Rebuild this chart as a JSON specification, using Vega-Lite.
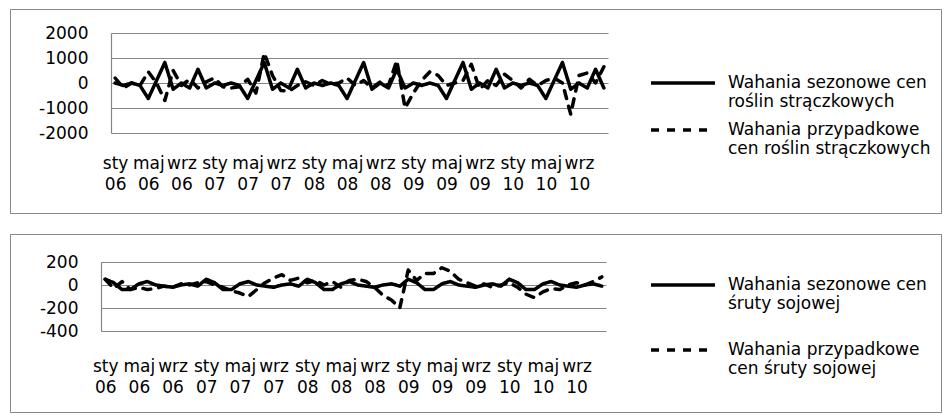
{
  "$schema": "https://vega.github.io/schema/vega-lite/v6.json",
  "background": "white",
  "padding": {"left": 9, "top": 8, "right": 0, "bottom": 0},
  "bounds": "flush",
  "spacing": 21,
  "config": {
    "view": {"stroke": "#868686", "strokeWidth": 1},
    "axis": {"labelFont": "DejaVu Sans", "labelFontSize": 17, "labelColor": "#000", "ticks": false, "tickSize": 0, "gridColor": "#868686", "gridWidth": 1.2, "gridOpacity": 1, "domainColor": "#868686", "domainWidth": 1.2},
    "legend": {"labelFont": "DejaVu Sans", "labelFontSize": 17, "labelColor": "#000"}
  },
  "datasets": {
    "legumes": [
      {"i":0,"month":"sty 06","sezonowe":0,"przypadkowe":200},
      {"i":1,"month":"lut 06","sezonowe":-100,"przypadkowe":-200},
      {"i":2,"month":"mar 06","sezonowe":0,"przypadkowe":0},
      {"i":3,"month":"kwi 06","sezonowe":-100,"przypadkowe":-100},
      {"i":4,"month":"maj 06","sezonowe":-620,"przypadkowe":450},
      {"i":5,"month":"cze 06","sezonowe":100,"przypadkowe":0},
      {"i":6,"month":"lip 06","sezonowe":820,"przypadkowe":-700},
      {"i":7,"month":"sie 06","sezonowe":-250,"przypadkowe":500},
      {"i":8,"month":"wrz 06","sezonowe":0,"przypadkowe":-100},
      {"i":9,"month":"paź 06","sezonowe":-200,"przypadkowe":150},
      {"i":10,"month":"lis 06","sezonowe":550,"przypadkowe":-200},
      {"i":11,"month":"gru 06","sezonowe":-200,"przypadkowe":50},
      {"i":12,"month":"sty 07","sezonowe":0,"przypadkowe":200},
      {"i":13,"month":"lut 07","sezonowe":-100,"przypadkowe":-150},
      {"i":14,"month":"mar 07","sezonowe":0,"przypadkowe":-200},
      {"i":15,"month":"kwi 07","sezonowe":-100,"przypadkowe":-150},
      {"i":16,"month":"maj 07","sezonowe":-620,"przypadkowe":150},
      {"i":17,"month":"cze 07","sezonowe":100,"przypadkowe":-400},
      {"i":18,"month":"lip 07","sezonowe":820,"przypadkowe":1200},
      {"i":19,"month":"sie 07","sezonowe":-250,"przypadkowe":300},
      {"i":20,"month":"wrz 07","sezonowe":0,"przypadkowe":-300},
      {"i":21,"month":"paź 07","sezonowe":-200,"przypadkowe":-320},
      {"i":22,"month":"lis 07","sezonowe":550,"przypadkowe":-100},
      {"i":23,"month":"gru 07","sezonowe":-200,"przypadkowe":50},
      {"i":24,"month":"sty 08","sezonowe":0,"przypadkowe":-100},
      {"i":25,"month":"lut 08","sezonowe":-100,"przypadkowe":100},
      {"i":26,"month":"mar 08","sezonowe":0,"przypadkowe":-50},
      {"i":27,"month":"kwi 08","sezonowe":-100,"przypadkowe":0},
      {"i":28,"month":"maj 08","sezonowe":-620,"przypadkowe":200},
      {"i":29,"month":"cze 08","sezonowe":100,"przypadkowe":-100},
      {"i":30,"month":"lip 08","sezonowe":820,"przypadkowe":100},
      {"i":31,"month":"sie 08","sezonowe":-250,"przypadkowe":-200},
      {"i":32,"month":"wrz 08","sezonowe":0,"przypadkowe":50},
      {"i":33,"month":"paź 08","sezonowe":-200,"przypadkowe":-100},
      {"i":34,"month":"lis 08","sezonowe":550,"przypadkowe":900},
      {"i":35,"month":"gru 08","sezonowe":-200,"przypadkowe":-1000},
      {"i":36,"month":"sty 09","sezonowe":0,"przypadkowe":-400},
      {"i":37,"month":"lut 09","sezonowe":-100,"przypadkowe":100},
      {"i":38,"month":"mar 09","sezonowe":0,"przypadkowe":450},
      {"i":39,"month":"kwi 09","sezonowe":-100,"przypadkowe":300},
      {"i":40,"month":"maj 09","sezonowe":-620,"przypadkowe":-100},
      {"i":41,"month":"cze 09","sezonowe":100,"przypadkowe":0},
      {"i":42,"month":"lip 09","sezonowe":820,"przypadkowe":100},
      {"i":43,"month":"sie 09","sezonowe":-250,"przypadkowe":750},
      {"i":44,"month":"wrz 09","sezonowe":0,"przypadkowe":-250},
      {"i":45,"month":"paź 09","sezonowe":-200,"przypadkowe":100},
      {"i":46,"month":"lis 09","sezonowe":550,"przypadkowe":-100},
      {"i":47,"month":"gru 09","sezonowe":-200,"przypadkowe":350},
      {"i":48,"month":"sty 10","sezonowe":0,"przypadkowe":100},
      {"i":49,"month":"lut 10","sezonowe":-100,"przypadkowe":-200},
      {"i":50,"month":"mar 10","sezonowe":0,"przypadkowe":150},
      {"i":51,"month":"kwi 10","sezonowe":-100,"przypadkowe":-100},
      {"i":52,"month":"maj 10","sezonowe":-620,"przypadkowe":100},
      {"i":53,"month":"cze 10","sezonowe":100,"przypadkowe":200},
      {"i":54,"month":"lip 10","sezonowe":820,"przypadkowe":0},
      {"i":55,"month":"sie 10","sezonowe":-250,"przypadkowe":-1250},
      {"i":56,"month":"wrz 10","sezonowe":0,"przypadkowe":300},
      {"i":57,"month":"paź 10","sezonowe":-200,"przypadkowe":400},
      {"i":58,"month":"lis 10","sezonowe":550,"przypadkowe":0},
      {"i":59,"month":"gru 10","sezonowe":-200,"przypadkowe":650}
    ],
    "soy": [
      {"i":0,"month":"sty 06","sezonowe":50,"przypadkowe":50},
      {"i":1,"month":"lut 06","sezonowe":20,"przypadkowe":-30},
      {"i":2,"month":"mar 06","sezonowe":-40,"przypadkowe":30},
      {"i":3,"month":"kwi 06","sezonowe":-40,"przypadkowe":-40},
      {"i":4,"month":"maj 06","sezonowe":10,"przypadkowe":-20},
      {"i":5,"month":"cze 06","sezonowe":30,"przypadkowe":-40},
      {"i":6,"month":"lip 06","sezonowe":0,"przypadkowe":-30},
      {"i":7,"month":"sie 06","sezonowe":-10,"przypadkowe":-10},
      {"i":8,"month":"wrz 06","sezonowe":-20,"przypadkowe":-20},
      {"i":9,"month":"paź 06","sezonowe":0,"przypadkowe":10},
      {"i":10,"month":"lis 06","sezonowe":10,"przypadkowe":0},
      {"i":11,"month":"gru 06","sezonowe":-10,"przypadkowe":20},
      {"i":12,"month":"sty 07","sezonowe":50,"przypadkowe":30},
      {"i":13,"month":"lut 07","sezonowe":20,"przypadkowe":0},
      {"i":14,"month":"mar 07","sezonowe":-40,"przypadkowe":-20},
      {"i":15,"month":"kwi 07","sezonowe":-40,"przypadkowe":-50},
      {"i":16,"month":"maj 07","sezonowe":10,"przypadkowe":-70},
      {"i":17,"month":"cze 07","sezonowe":30,"przypadkowe":-100},
      {"i":18,"month":"lip 07","sezonowe":0,"przypadkowe":-40},
      {"i":19,"month":"sie 07","sezonowe":-10,"przypadkowe":20},
      {"i":20,"month":"wrz 07","sezonowe":-20,"przypadkowe":60},
      {"i":21,"month":"paź 07","sezonowe":0,"przypadkowe":90},
      {"i":22,"month":"lis 07","sezonowe":10,"przypadkowe":40},
      {"i":23,"month":"gru 07","sezonowe":-10,"przypadkowe":60},
      {"i":24,"month":"sty 08","sezonowe":50,"przypadkowe":20},
      {"i":25,"month":"lut 08","sezonowe":20,"przypadkowe":40},
      {"i":26,"month":"mar 08","sezonowe":-40,"przypadkowe":0},
      {"i":27,"month":"kwi 08","sezonowe":-40,"przypadkowe":30},
      {"i":28,"month":"maj 08","sezonowe":10,"przypadkowe":-20},
      {"i":29,"month":"cze 08","sezonowe":30,"przypadkowe":40},
      {"i":30,"month":"lip 08","sezonowe":0,"przypadkowe":50},
      {"i":31,"month":"sie 08","sezonowe":-10,"przypadkowe":30},
      {"i":32,"month":"wrz 08","sezonowe":-20,"przypadkowe":-20},
      {"i":33,"month":"paź 08","sezonowe":0,"przypadkowe":-90},
      {"i":34,"month":"lis 08","sezonowe":10,"przypadkowe":-130},
      {"i":35,"month":"gru 08","sezonowe":-10,"przypadkowe":-200},
      {"i":36,"month":"sty 09","sezonowe":50,"przypadkowe":130},
      {"i":37,"month":"lut 09","sezonowe":20,"przypadkowe":40},
      {"i":38,"month":"mar 09","sezonowe":-40,"przypadkowe":100},
      {"i":39,"month":"kwi 09","sezonowe":-40,"przypadkowe":100},
      {"i":40,"month":"maj 09","sezonowe":10,"przypadkowe":150},
      {"i":41,"month":"cze 09","sezonowe":30,"przypadkowe":120},
      {"i":42,"month":"lip 09","sezonowe":0,"przypadkowe":50},
      {"i":43,"month":"sie 09","sezonowe":-10,"przypadkowe":20},
      {"i":44,"month":"wrz 09","sezonowe":-20,"przypadkowe":-10},
      {"i":45,"month":"paź 09","sezonowe":0,"przypadkowe":10},
      {"i":46,"month":"lis 09","sezonowe":10,"przypadkowe":-20},
      {"i":47,"month":"gru 09","sezonowe":-10,"przypadkowe":0},
      {"i":48,"month":"sty 10","sezonowe":50,"przypadkowe":20},
      {"i":49,"month":"lut 10","sezonowe":20,"przypadkowe":-20},
      {"i":50,"month":"mar 10","sezonowe":-40,"przypadkowe":-80},
      {"i":51,"month":"kwi 10","sezonowe":-40,"przypadkowe":-110},
      {"i":52,"month":"maj 10","sezonowe":10,"przypadkowe":-60},
      {"i":53,"month":"cze 10","sezonowe":30,"przypadkowe":-30},
      {"i":54,"month":"lip 10","sezonowe":0,"przypadkowe":-40},
      {"i":55,"month":"sie 10","sezonowe":-10,"przypadkowe":0},
      {"i":56,"month":"wrz 10","sezonowe":-20,"przypadkowe":20},
      {"i":57,"month":"paź 10","sezonowe":0,"przypadkowe":0},
      {"i":58,"month":"lis 10","sezonowe":10,"przypadkowe":30},
      {"i":59,"month":"gru 10","sezonowe":-10,"przypadkowe":70}
    ]
  },
  "vconcat": [
    {
      "width": 931,
      "height": 204,
      "data": {"name": "legumes"},
      "transform": [{"fold": ["sezonowe", "przypadkowe"], "as": ["series", "value"]}],
      "mark": {"type": "line", "color": "black", "strokeWidth": 3.5, "strokeJoin": "round", "strokeCap": "round"},
      "encoding": {
        "x": {
          "field": "i", "type": "quantitative",
          "scale": {"domain": [-0.5, 59.5], "range": [101, 598], "nice": false, "zero": false},
          "axis": {"title": null, "orient": "bottom", "offset": -58, "values": [0,4,8,12,16,20,24,28,32,36,40,44,48,52,56],
                   "labelExpr": "[['sty','maj','wrz'][floor((datum.value % 12) / 4)], (datum.value < 48 ? '0' : '') + (6 + floor(datum.value / 12))]",
                   "domain": false, "grid": false, "labelPadding": 0, "labelOverlap": false, "labelFlush": false, "labelLineHeight": 21, "labelBaseline": "top"}
        },
        "y": {
          "field": "value", "type": "quantitative",
          "scale": {"domain": [-2000, 2000], "range": [124, 24], "nice": false, "zero": false},
          "axis": {"title": null, "values": [-2000, -1000, 0, 1000, 2000], "labelExpr": "'' + datum.value", "offset": -101, "grid": true, "domain": true, "labelPadding": 23}
        },
        "strokeDash": {
          "field": "series", "type": "nominal",
          "scale": {"domain": ["sezonowe", "przypadkowe"], "range": [[1, 0], [8, 8]]},
          "legend": {"title": null, "orient": "none", "legendX": 639, "legendY": 54, "padding": 0,
                     "symbolType": "stroke", "symbolSize": 4096, "symbolStrokeWidth": 3.5, "symbolStrokeColor": "black",
                     "clipHeight": 40, "rowPadding": 0, "labelOffset": 11, "labelLimit": 400, "labelBaseline": "middle",
                     "labelExpr": "datum.value == 'sezonowe' ? ['Wahania sezonowe cen', 'roślin strączkowych'] : ['Wahania przypadkowe', 'cen roślin strączkowych']"}
        }
      }
    },
    {
      "width": 931,
      "height": 178,
      "data": {"name": "soy"},
      "transform": [{"fold": ["sezonowe", "przypadkowe"], "as": ["series", "value"]}],
      "mark": {"type": "line", "color": "black", "strokeWidth": 3.5, "strokeJoin": "round", "strokeCap": "round"},
      "encoding": {
        "x": {
          "field": "i", "type": "quantitative",
          "scale": {"domain": [-0.5, 59.5], "range": [91, 596], "nice": false, "zero": false},
          "axis": {"title": null, "orient": "bottom", "offset": -54, "values": [0,4,8,12,16,20,24,28,32,36,40,44,48,52,56],
                   "labelExpr": "[['sty','maj','wrz'][floor((datum.value % 12) / 4)], (datum.value < 48 ? '0' : '') + (6 + floor(datum.value / 12))]",
                   "domain": false, "grid": false, "labelPadding": 0, "labelOverlap": false, "labelFlush": false, "labelLineHeight": 21, "labelBaseline": "top"}
        },
        "y": {
          "field": "value", "type": "quantitative",
          "scale": {"domain": [-400, 200], "range": [97, 28], "nice": false, "zero": false},
          "axis": {"title": null, "values": [-400, -200, 0, 200], "labelExpr": "'' + datum.value", "offset": -91, "grid": true, "domain": true, "labelPadding": 23}
        },
        "strokeDash": {
          "field": "series", "type": "nominal",
          "scale": {"domain": ["sezonowe", "przypadkowe"], "range": [[1, 0], [8, 8]]},
          "legend": {"title": null, "orient": "none", "legendX": 639, "legendY": 31, "padding": 0,
                     "symbolType": "stroke", "symbolSize": 4096, "symbolStrokeWidth": 3.5, "symbolStrokeColor": "black",
                     "clipHeight": 40, "rowPadding": 18, "labelOffset": 11, "labelLimit": 400, "labelBaseline": "middle",
                     "labelExpr": "datum.value == 'sezonowe' ? ['Wahania sezonowe cen', 'śruty sojowej'] : ['Wahania przypadkowe', 'cen śruty  sojowej']"}
        }
      }
    }
  ],
  "resolve": {
    "scale": {"strokeDash": "independent", "x": "independent", "y": "independent"},
    "legend": {"strokeDash": "independent"}
  }
}
